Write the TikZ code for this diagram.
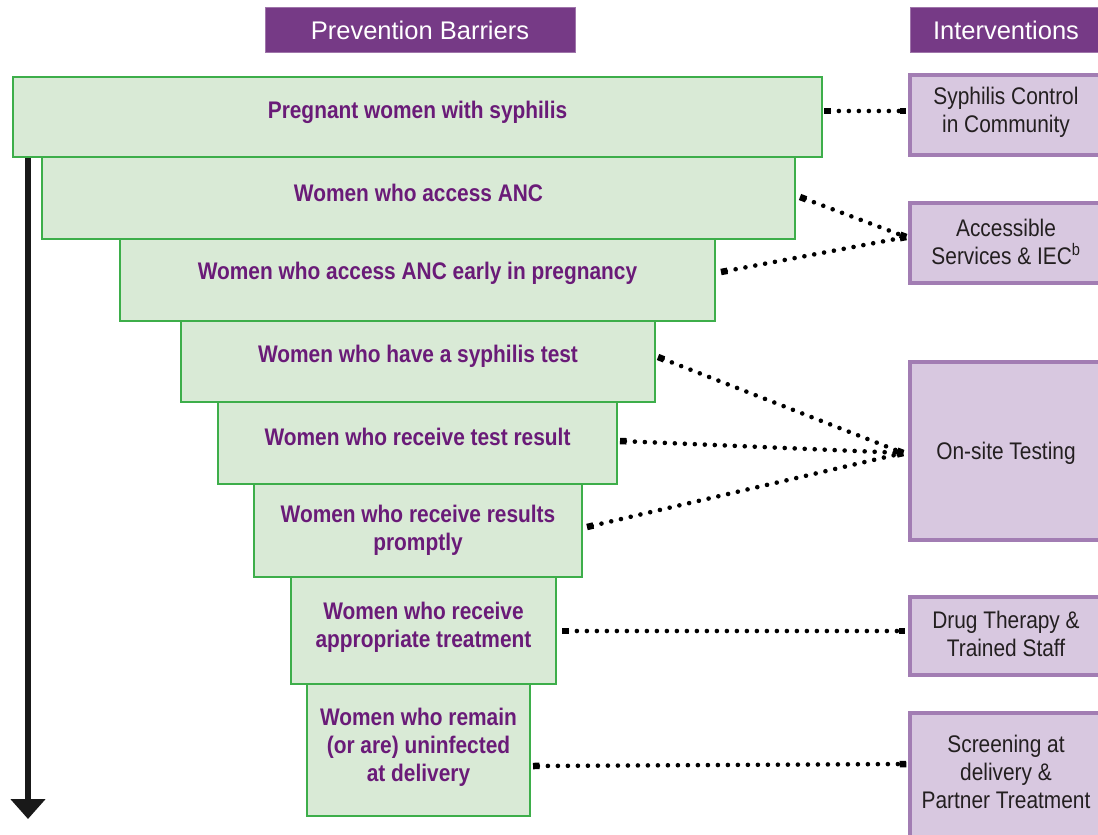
\documentclass[tikz,border=0pt]{standalone}
\usepackage{fontspec}
\setmainfont{Liberation Sans}
\newfontfamily\condf[FakeStretch=0.87]{Liberation Sans}
\usetikzlibrary{arrows.meta,calc}
\definecolor{hdrfill}{HTML}{763A86}
\definecolor{gfill}{HTML}{D9EAD6}
\definecolor{gline}{HTML}{3DAE4A}
\definecolor{gtext}{HTML}{6A1B78}
\definecolor{pfill}{HTML}{D8C8E0}
\definecolor{pline}{HTML}{A27DB3}
\definecolor{ptext}{HTML}{231F20}
\begin{document}
\begin{tikzpicture}[x=1pt,y=-1pt,
  hdr/.style={fill=hdrfill, draw=hdrfill!70, line width=0.8pt, text=white, font=\fontsize{25.5}{28}\selectfont, inner sep=0pt},
  gbox/.style={fill=gfill, draw=gline, line width=2pt, inner sep=0pt},
  gtxt/.style={text=gtext, font=\condf\bfseries\fontsize{24}{28}\selectfont, align=center, inner sep=0pt},
  pbox/.style={fill=pfill, draw=pline, line width=3.5pt, inner sep=0pt},
  ptxt/.style={text=ptext, font=\condf\fontsize{24}{28}\selectfont, align=center, inner sep=0pt},
  conn/.style={line width=4.6pt, line cap=round, dash pattern=on 0pt off 10pt, {Square[length=6.5pt,width=6.5pt]}-{Square[length=6.5pt,width=6.5pt]}},
  flow/.style={line width=6.5pt, draw=black!90, -{Triangle[length=20pt,width=34pt]}}
]
\useasboundingbox (0,0) rectangle (1098,835);

% headers
\node[hdr, minimum width=310pt, minimum height=45pt] (h1) at (420,30) {Prevention Barriers};
\node[hdr, minimum width=192pt, minimum height=45pt] (h2) at (1006,30) {Interventions};

% green boxes
\node[gbox, minimum width=809pt, minimum height=80pt] (b1) at (417.5,117) {};
\coordinate (aend) at (28,819);
\draw[flow] (b1.south -| aend) -- (aend);
\node[gbox, minimum width=753pt, minimum height=82pt] (b2) at (418.5,198) {};
\node[gbox, minimum width=595pt, minimum height=82pt] (b3) at (417.5,280) {};
\node[gbox, minimum width=474pt, minimum height=81pt] (b4) at (418,361.5) {};
\node[gbox, minimum width=399pt, minimum height=82pt] (b5) at (417.5,443) {};
\node[gbox, minimum width=328pt, minimum height=93pt] (b6) at (418,530.5) {};
\node[gbox, minimum width=265pt, minimum height=107pt] (b7) at (423.5,630.5) {};
\node[gbox, minimum width=223pt, minimum height=132pt] (b8) at (418.5,750) {};

\node[gtxt] (t1) at (417.5,112) {Pregnant women with syphilis};
\node[gtxt] (t2) at (418.5,193) {Women who access ANC};
\node[gtxt] (t3) at (417.5,273) {Women who access ANC early in pregnancy};
\node[gtxt] (t4) at (418,356) {Women who have a syphilis test};
\node[gtxt] (t5) at (417.5,437) {Women who receive test result};
\node[gtxt] (t6) at (418,530) {Women who receive results\\promptly};
\node[gtxt] (t7) at (423.5,627) {Women who receive\\appropriate treatment};
\node[gtxt] (t8) at (418.5,747) {Women who remain\\(or are) uninfected\\at delivery};

% intervention boxes
\node[pbox, minimum width=192pt, minimum height=80pt] (iA) at (1006,115) {};
\node[pbox, minimum width=192pt, minimum height=80pt] (iB) at (1006,243) {};
\node[pbox, minimum width=192pt, minimum height=178pt] (iC) at (1006,451) {};
\node[pbox, minimum width=192pt, minimum height=78pt] (iD) at (1006,636) {};
\node[pbox, minimum width=192pt, minimum height=132pt] (iE) at (1006,779) {};

\node[ptxt] (sA) at (1006,112) {Syphilis Control\\in Community};
\node[ptxt] (sB) at (1006,242) {Accessible\\Services \& IEC\textsuperscript{b}};
\node[ptxt] (sC) at (1006,453) {On-site Testing};
\node[ptxt] (sD) at (1006,634) {Drug Therapy \&\\Trained Staff};
\node[ptxt] (sE) at (1006,772) {Screening at\\delivery \&\\Partner Treatment};

% connectors
\draw[conn] ($(b1.east)+(1,-6)$) -- ($(iA.west)+(-2,-4)$);
\draw[conn] ($(b2.east)+(4,-1)$) -- ($(iB.west)+(-2,-6)$);
\draw[conn] ($(b3.east)+(5,-8)$) -- ($(iB.west)+(-2,-6)$);
\draw[conn] ($(b4.east)+(2,-4.5)$) -- ($(iC.west)+(-5,2)$);
\draw[conn] ($(b5.east)+(2,-2)$) -- ($(iC.west)+(-5,2)$);
\draw[conn] ($(b6.east)+(4,-3.5)$) -- ($(iC.west)+(-5,2)$);
\draw[conn] ($(b7.east)+(5,0.5)$) -- ($(iD.west)+(-3,-5)$);
\draw[conn] ($(b8.east)+(2,16)$) -- ($(iE.west)+(-2,-15)$);
\end{tikzpicture}
\end{document}
